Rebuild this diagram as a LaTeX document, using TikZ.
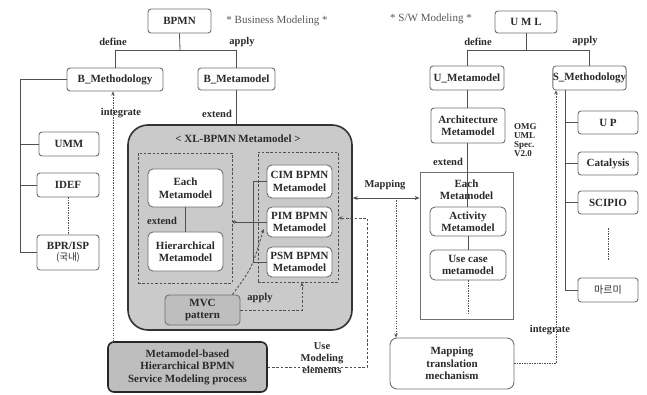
\documentclass[tikz,border=0pt]{standalone}
\usepackage{fontspec}
\setmainfont{Liberation Serif}
\newfontfamily\kr{Noto Sans CJK KR}
\usetikzlibrary{arrows.meta}
\definecolor{boxgray}{HTML}{707070}
\definecolor{linegray}{HTML}{505050}
\definecolor{txt}{HTML}{2A2A2A}
\definecolor{bigfill}{HTML}{CACACA}
\definecolor{darkfill}{HTML}{BEBEBE}
\begin{document}
\begin{tikzpicture}[x=1pt,y=-1pt,
  every node/.style={text=txt, font=\bfseries\fontsize{11}{12.5}\selectfont, align=center, inner sep=0pt},
  box/.style={draw=boxgray, line width=0.9pt, rounded corners=3pt, fill=white},
  conn/.style={draw=linegray, line width=0.8pt},
  dsh/.style={draw=linegray, line width=0.9pt, dash pattern=on 2.5pt off 1.8pt},
  dts/.style={draw=linegray, line width=1pt, dash pattern=on 1.2pt off 1.3pt},
  lbl/.style={font=\bfseries\fontsize{10.5}{12}\selectfont},
  tip/.style={-{Stealth[length=4pt,width=3.5pt]}}
]
\useasboundingbox (0,0) rectangle (647,395);
\fill[white] (0,0) rectangle (647,395);

% ---------- left part ----------
\node[box, minimum width=63pt, minimum height=24pt] (bpmn) at (179.5,21) {BPMN};
\node[font=\fontsize{11}{12}\selectfont, text=black!65] (bmtitle) at (277,21) {* Business Modeling *};
\node[box, minimum width=96pt, minimum height=23pt] (bmeth) at (115,79.5) {B\_Methodology};
\node[box, minimum width=77pt, minimum height=22pt] (bmeta) at (236.5,79) {B\_Metamodel};
\node[box, minimum width=60pt, minimum height=24pt] (umm) at (69,144) {UMM};
\node[box, minimum width=62pt, minimum height=24pt] (idef) at (68,185) {IDEF};
\node[box, minimum width=62pt, minimum height=35pt] (bpr) at (68,252.5) {BPR/ISP\\[-1pt]{\kr\mdseries\fontsize{9.5}{10}\selectfont (국내)}};

\coordinate (jb) at (180,50);
\draw[conn] (bpmn.south) -- (jb);
\draw[conn] (bmeth.north) -- (bmeth.north |- jb) -- (bmeta.north |- jb) -- (bmeta.north);
\node[lbl] (ldefine) at (113,42) {define};
\node[lbl] (lapply) at (242,42) {apply};

\coordinate (lb) at (20,0);
\draw[conn] (bmeth.west) -| (lb |- bpr.west) -- (bpr.west);
\draw[conn] (lb |- umm.west) -- (umm.west);
\draw[conn] (lb |- idef.west) -- (idef.west);
\draw[dts] (idef.south) -- (bpr.north);

% big box
\node[draw=black!80, line width=1.6pt, rounded corners=20pt, fill=bigfill, minimum width=224pt, minimum height=205pt] (big) at (240,227.5) {};
\node (bigtitle) at (238,139) {< XL-BPMN Metamodel >};
\draw[conn] (bmeta.south) -- (big.north -| bmeta.south);
\node[lbl] (lextend) at (217,114) {extend};

\node[dsh, minimum width=94pt, minimum height=130pt] (ldash) at (185,218) {};
\node[dsh, minimum width=80pt, minimum height=130pt] (rdash) at (298,217) {};
\node[box, rounded corners=5pt, minimum width=75pt, minimum height=38pt] (each) at (185.5,188) {Each\\Metamodel};
\node[box, rounded corners=5pt, minimum width=75pt, minimum height=39pt] (hier) at (185.5,251.5) {Hierarchical\\Metamodel};
\draw[conn] (each.south) -- (hier.north);
\node[lbl] (lextend2) at (162,221) {extend};

\node[box, rounded corners=5pt, minimum width=65pt, minimum height=33pt] (cim) at (299.5,181.5) {CIM BPMN\\Metamodel};
\node[box, rounded corners=5pt, minimum width=65pt, minimum height=30pt] (pim) at (299.5,222) {PIM BPMN\\Metamodel};
\node[box, rounded corners=5pt, minimum width=65pt, minimum height=30pt] (psm) at (299.5,262) {PSM BPMN\\Metamodel};
\coordinate (rb) at (253,0);
\draw[conn] (cim.west) -- (cim.west -| rb) -- (psm.west -| rb) -- (psm.west);
\draw[conn, {Circle[open,length=4pt,width=3pt]}-] (ldash.east |- pim.west) -- (pim.west);

\node[box, fill=darkfill, rounded corners=4pt, minimum width=75pt, minimum height=30pt] (mvc) at (202.5,310) {MVC\\pattern};
\draw[dsh, tip] ([xshift=-8pt]mvc.north east) .. controls (252,268) .. ([xshift=-3pt,yshift=-7pt]pim.west);
\coordinate (ax) at (302,0);
\draw[dsh, tip] (mvc.east) -- (mvc.east -| ax) -- (rdash.south -| ax);
\node[lbl] (lapply2) at (260,298) {apply};

\node[draw=black!85, line width=1.6pt, rounded corners=6pt, fill=darkfill, minimum width=159pt, minimum height=50pt] (proc) at (187.5,367) {Metamodel-based\\Hierarchical BPMN\\Service Modeling process};
\coordinate (ix) at (113,0);
\draw[dts, tip] (proc.north -| ix) -- (bmeth.south -| ix);
\node[lbl] (lint) at (121,113) {integrate};

% ---------- right part ----------
\node[box, minimum width=62pt, minimum height=22pt] (uml) at (526,22) {U M L};
\node[font=\fontsize{11}{12}\selectfont, text=black!65] (swtitle) at (431,19) {* S/W Modeling *};
\node[box, minimum width=74pt, minimum height=24pt] (umeta) at (467,78) {U\_Metamodel};
\node[box, minimum width=73pt, minimum height=24pt] (smeth) at (589.5,78) {S\_Methodology};
\coordinate (jr) at (526,50);
\draw[conn] (uml.south) -- (jr);
\draw[conn] (umeta.north) -- (umeta.north |- jr) -- (smeth.north |- jr) -- (smeth.north);
\node[lbl] (rdefine) at (478,42) {define};
\node[lbl] (rapply) at (585,41) {apply};

\node[box, minimum width=74pt, minimum height=35pt] (arch) at (468,125.5) {Architecture\\Metamodel};
\node[font=\bfseries\fontsize{9}{8.8}\selectfont, align=left, anchor=west] (omg) at (514,140) {OMG\\UML\\Spec.\\V2.0};
\draw[conn] (umeta.south) -- (umeta.south |- arch.north);

\node[draw=boxgray, line width=0.7pt, minimum width=93pt, minimum height=147pt] (eachr) at (466.5,245.5) {};
\node (eachrt) at (466.5,189.5) {Each\\Metamodel};
\node[box, rounded corners=5pt, minimum width=76pt, minimum height=29pt] (activity) at (468,221.5) {Activity\\Metamodel};
\node[box, rounded corners=5pt, minimum width=76pt, minimum height=30pt] (usecase) at (468,265) {Use case\\metamodel};
\draw[conn] (umeta.south |- arch.south) -- (umeta.south |- activity.north);
\node[lbl] (rextend) at (448,162) {extend};
\draw[conn] (activity.south) -- (usecase.north);
\draw[dts] (usecase.south) -- ([yshift=5pt]eachr.south -| usecase.south);

\coordinate (my) at (0,198);
\draw[conn, {Stealth[length=5pt,width=4pt]}-{Stealth[length=5pt,width=4pt]}] (big.east |- my) -- (eachr.west |- my);
\node[lbl] (lmap) at (385,185) {Mapping};

\node[box, rounded corners=7pt, minimum width=124pt, minimum height=51pt] (mtm) at (452,363.5) {Mapping\\translation\\mechanism};
\coordinate (mx) at (396,0);
\draw[dts, tip] (mx |- my) -- (mtm.north -| mx);

\coordinate (ux) at (367,0);
\coordinate (uy) at (0,218);
\draw[dsh, tip] (proc.east) -| (ux |- uy) -- (rdash.east |- uy);
\node[lbl] (luse) at (322,358) {Use\\Modeling\\elements};

\node[box, minimum width=60pt, minimum height=23pt] (up) at (608,122.5) {U P};
\node[box, minimum width=60pt, minimum height=23pt] (cat) at (608,163.5) {Catalysis};
\node[box, minimum width=60pt, minimum height=23pt] (sci) at (608,202.5) {SCIPIO};
\node[box, minimum width=60pt, minimum height=24pt] (maru) at (608,290) {\kr\mdseries\fontsize{10}{11}\selectfont 마르미};
\coordinate (rx) at (565,0);
\draw[conn] (smeth.south -| rx) -- (rx |- maru.west) -- (maru.west);
\draw[conn] (rx |- up.west) -- (up.west);
\draw[conn] (rx |- cat.west) -- (cat.west);
\draw[conn] (rx |- sci.west) -- (sci.west);
\draw[dts] ([yshift=-14pt]sci.south) -- ([yshift=18pt]maru.north);

\coordinate (ix2) at (556,0);
\draw[dts, tip] (mtm.east) -| (smeth.south -| ix2);
\node[lbl] (rint) at (550,330) {integrate};
\end{tikzpicture}
\end{document}
